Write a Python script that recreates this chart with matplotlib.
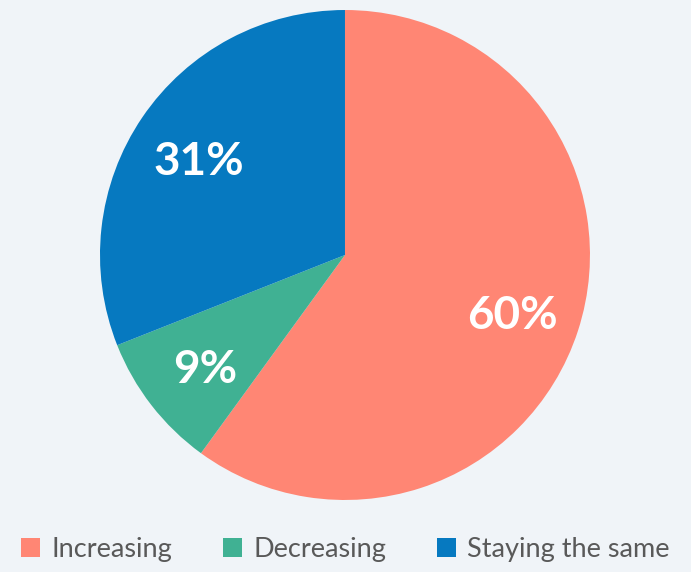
import matplotlib
matplotlib.use("Agg")
import matplotlib.pyplot as plt
from matplotlib.patches import Patch

categories = ["Increasing", "Decreasing", "Staying the same"]
values = [60, 9, 31]
colors = ["#FF8674", "#40B193", "#0679C0"]
bg = "#F0F4F8"

plt.rcParams['font.family'] = ['Lato', 'DejaVu Sans']

fig = plt.figure(figsize=(6.91, 5.72), dpi=100, facecolor=bg)
ax = fig.add_axes([0.1447, 0.1259, 0.7091, 0.8566])
ax.set_facecolor(bg)
wedges, texts, autotexts = ax.pie(
    values, colors=colors, startangle=90, counterclock=False,
    autopct=lambda p: f"{p:.0f}%", pctdistance=0.72, radius=1,
    wedgeprops=dict(linewidth=0),
    textprops=dict(color="white", fontsize=33, fontweight="bold"))
for t in autotexts:
    x, y = t.get_position()
    t.set_position((x, y - 0.027))
ax.set_xlim(-1, 1)
ax.set_ylim(-1, 1)
ax.set_aspect("equal")
ax.axis("off")

handles = [Patch(facecolor=c, edgecolor="none") for c in colors]
fig.legend(handles, categories, loc="center", bbox_to_anchor=(0.5, 1 - 549 / 572),
           ncol=3, frameon=False, fontsize=19.5, labelcolor="#595959",
           handlelength=0.7, handleheight=0.7, handletextpad=0.4,
           columnspacing=1.9)

fig.savefig("out.png", dpi=100, facecolor=bg)
